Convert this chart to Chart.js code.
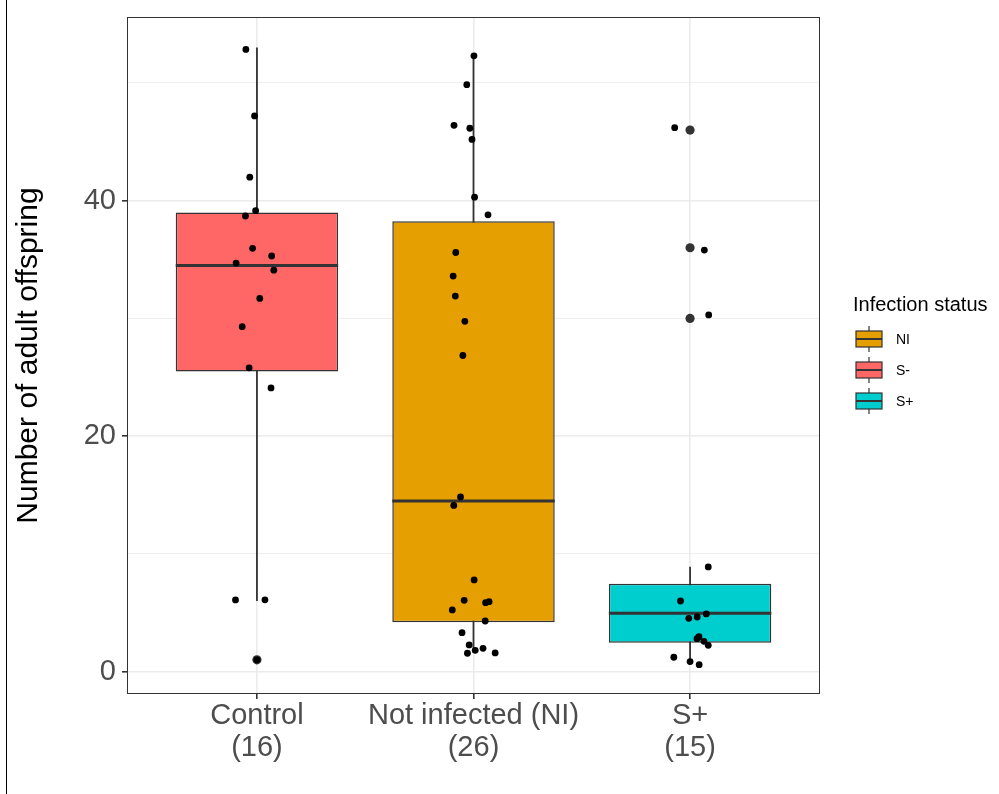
<!DOCTYPE html>
<html>
<head>
<meta charset="utf-8">
<script src="https://cdn.jsdelivr.net/npm/chart.js@4.4.1/dist/chart.umd.min.js"></script>
<style>
  body { margin: 0; background: #fff; }
  #wrap { position: relative; width: 999px; height: 794px; }
  #edge { position: absolute; left: 6px; top: 0; width: 1px; height: 794px; background: #000; }
</style>
</head>
<body>
<div id="wrap">
  <canvas id="chart" width="999" height="794"></canvas>
  <div id="edge"></div>
</div>
<script>
// groups on the x axis
const groups = ['Control', 'Not infected (NI)', 'S+'];
const groupN = [16, 26, 15];
const groupStatus = ['S-', 'NI', 'S+'];

// box stats
const whiskerLow = [6.0, 1.6, 0.6];
const q1 = [25.5, 4.2, 2.45];
const median = [34.5, 14.5, 4.95];
const q3 = [39.0, 38.25, 7.47];
const whiskerHigh = [53.0, 52.3, 8.9];

// boxplot outliers (grey dots)
const outlierGroup = [1, 3, 3, 3];
const outlierValue = [1.0, 46.0, 36.0, 30.0];

// jittered points, x offset from the group centre
const controlX = [-0.051, -0.011, -0.033, -0.006, -0.053, -0.02, 0.068, -0.096, 0.078, 0.013, -0.068, -0.036, 0.065, -0.099, 0.037, 0.0];
const controlY = [52.85, 47.2, 42.0, 39.15, 38.7, 35.95, 35.3, 34.7, 34.1, 31.7, 29.3, 25.8, 24.1, 6.09, 6.1, 1.0];
const niX = [0.002, -0.031, -0.09, -0.017, -0.007, 0.005, 0.067, -0.082, -0.094, -0.084, -0.04, -0.049, -0.06, -0.091, 0.003, -0.043, -0.098, 0.056, 0.072, 0.054, -0.053, -0.02, 0.044, 0.008, -0.028, 0.1];
const niY = [52.3, 49.85, 46.4, 46.15, 45.2, 40.3, 38.8, 35.6, 33.6, 31.9, 29.75, 26.85, 14.84, 14.12, 7.79, 6.06, 5.24, 5.86, 5.94, 4.3, 3.31, 2.27, 1.98, 1.81, 1.56, 1.59];
const spX = [-0.071, 0.066, 0.086, 0.084, -0.044, -0.006, 0.033, 0.075, 0.041, 0.032, 0.064, 0.084, -0.075, 0.0, 0.042];
const spY = [46.2, 35.8, 30.3, 8.89, 6.0, 4.53, 4.64, 4.9, 2.97, 2.8, 2.57, 2.23, 1.22, 0.85, 0.59];

const yTicks = [0, 10, 20, 30, 40, 50];
const legendTitle = 'Infection status';
const legendLabels = ['NI', 'S-', 'S+'];
const statusColors = { 'NI': '#E69F00', 'S-': '#FF6666', 'S+': '#00CDCD' };

const boxWidth = 0.75;
const edge = '#333333';
const fontFamily = '"Liberation Sans", Arial, sans-serif';
Chart.defaults.font.family = fontFamily;

const whiskerData = [];
const medianData = [];
groups.forEach((g, i) => {
  const x = i + 1;
  whiskerData.push({ x, y: whiskerLow[i] }, { x, y: whiskerHigh[i] }, { x, y: null });
  medianData.push({ x: x - boxWidth / 2, y: median[i] }, { x: x + boxWidth / 2, y: median[i] }, { x: x + 0.5, y: null });
});
const boxData = groups.map((g, i) => ({ x: i + 1, y: [q1[i], q3[i]] }));
const outlierData = outlierValue.map((v, i) => ({ x: outlierGroup[i], y: v }));
const jitterData = [];
[[controlX, controlY], [niX, niY], [spX, spY]].forEach(([xs, ys], i) => {
  xs.forEach((dx, j) => jitterData.push({ x: i + 1 + dx, y: ys[j] }));
});

const panelPlugin = {
  id: 'panel',
  afterDraw(chart) {
    const ctx = chart.ctx;
    const area = chart.chartArea;
    ctx.save();
    ctx.strokeStyle = edge;
    ctx.lineWidth = 1;
    ctx.strokeRect(area.left + 0.5, area.top + 0.5, area.width - 1, area.height - 1);

    // legend
    const lx = area.right + 33;
    ctx.fillStyle = '#000';
    ctx.font = '20px ' + fontFamily;
    ctx.textAlign = 'left';
    ctx.textBaseline = 'middle';
    ctx.fillText(legendTitle, lx, 305);
    legendLabels.forEach((lab, i) => {
      const cy = 339 + i * 31;
      const kx = lx + 3, kw = 26;
      ctx.strokeStyle = edge;
      ctx.lineWidth = 1.2;
      ctx.beginPath();
      ctx.moveTo(kx + kw / 2, cy - 13);
      ctx.lineTo(kx + kw / 2, cy + 13);
      ctx.stroke();
      ctx.fillStyle = statusColors[lab];
      ctx.fillRect(kx, cy - 8, kw, 16);
      ctx.strokeRect(kx, cy - 8, kw, 16);
      ctx.lineWidth = 2;
      ctx.beginPath();
      ctx.moveTo(kx, cy);
      ctx.lineTo(kx + kw, cy);
      ctx.stroke();
      ctx.fillStyle = '#000';
      ctx.font = '14px ' + fontFamily;
      ctx.fillText(lab, lx + 43, cy + 1);
    });
    ctx.restore();
  }
};

new Chart(document.getElementById('chart').getContext('2d'), {
  type: 'scatter',
  data: {
    datasets: [
      {
        type: 'line',
        data: whiskerData,
        borderColor: edge,
        borderWidth: 1.8,
        pointRadius: 0,
        spanGaps: false,
        order: 5
      },
      {
        type: 'bar',
        data: boxData,
        backgroundColor: groupStatus.map(s => statusColors[s]),
        borderColor: edge,
        borderWidth: 1.5,
        borderSkipped: false,
        barPercentage: boxWidth,
        categoryPercentage: 1,
        order: 4
      },
      {
        type: 'line',
        data: medianData,
        borderColor: edge,
        borderWidth: 3,
        pointRadius: 0,
        spanGaps: false,
        order: 3
      },
      {
        type: 'scatter',
        data: outlierData,
        backgroundColor: edge,
        borderWidth: 0,
        pointRadius: 4.6,
        order: 2
      },
      {
        type: 'scatter',
        data: jitterData,
        backgroundColor: '#000',
        borderWidth: 0,
        pointRadius: 3.4,
        order: 1
      }
    ]
  },
  options: {
    responsive: false,
    animation: false,
    layout: { padding: { left: 0, top: 17, right: 179, bottom: 0 } },
    plugins: { legend: { display: false }, tooltip: { enabled: false } },
    scales: {
      x: {
        type: 'linear',
        min: 0.4,
        max: 3.6,
        offset: false,
        afterBuildTicks: scale => { scale.ticks = groups.map((g, i) => ({ value: i + 1 })); },
        afterFit: scale => { scale.height = 100; scale.paddingLeft = 0; scale.paddingRight = 0; },
        border: { display: false },
        grid: { offset: false, color: '#EBEBEB', lineWidth: 1.6, tickColor: edge, tickLength: 5 },
        ticks: {
          autoSkip: false,
          maxRotation: 0,
          padding: 1,
          color: '#4D4D4D',
          font: { size: 29, lineHeight: 1.1 },
          callback: v => [groups[v - 1], '(' + groupN[v - 1] + ')']
        }
      },
      y: {
        min: -1.9,
        max: 55.6,
        afterBuildTicks: scale => { scale.ticks = yTicks.map(v => ({ value: v })); },
        afterFit: scale => { scale.width = 127; scale.paddingTop = 0; scale.paddingBottom = 0; },
        border: { display: false },
        grid: {
          color: '#EBEBEB',
          lineWidth: ctx => (ctx.tick && ctx.tick.value % 20 === 0 ? 1.6 : 0.8),
          tickColor: ctx => (ctx.tick && ctx.tick.value % 20 === 0 ? edge : 'rgba(0,0,0,0)'),
          tickLength: 5
        },
        ticks: {
          padding: 6,
          color: '#4D4D4D',
          font: { size: 29 },
          callback: v => (v % 20 === 0 ? v : '')
        },
        title: {
          display: true,
          text: 'Number of adult offspring',
          color: '#000',
          font: { size: 30 },
          padding: { top: 11, bottom: 0 }
        }
      }
    }
  },
  plugins: [panelPlugin]
});
</script>
</body>
</html>
